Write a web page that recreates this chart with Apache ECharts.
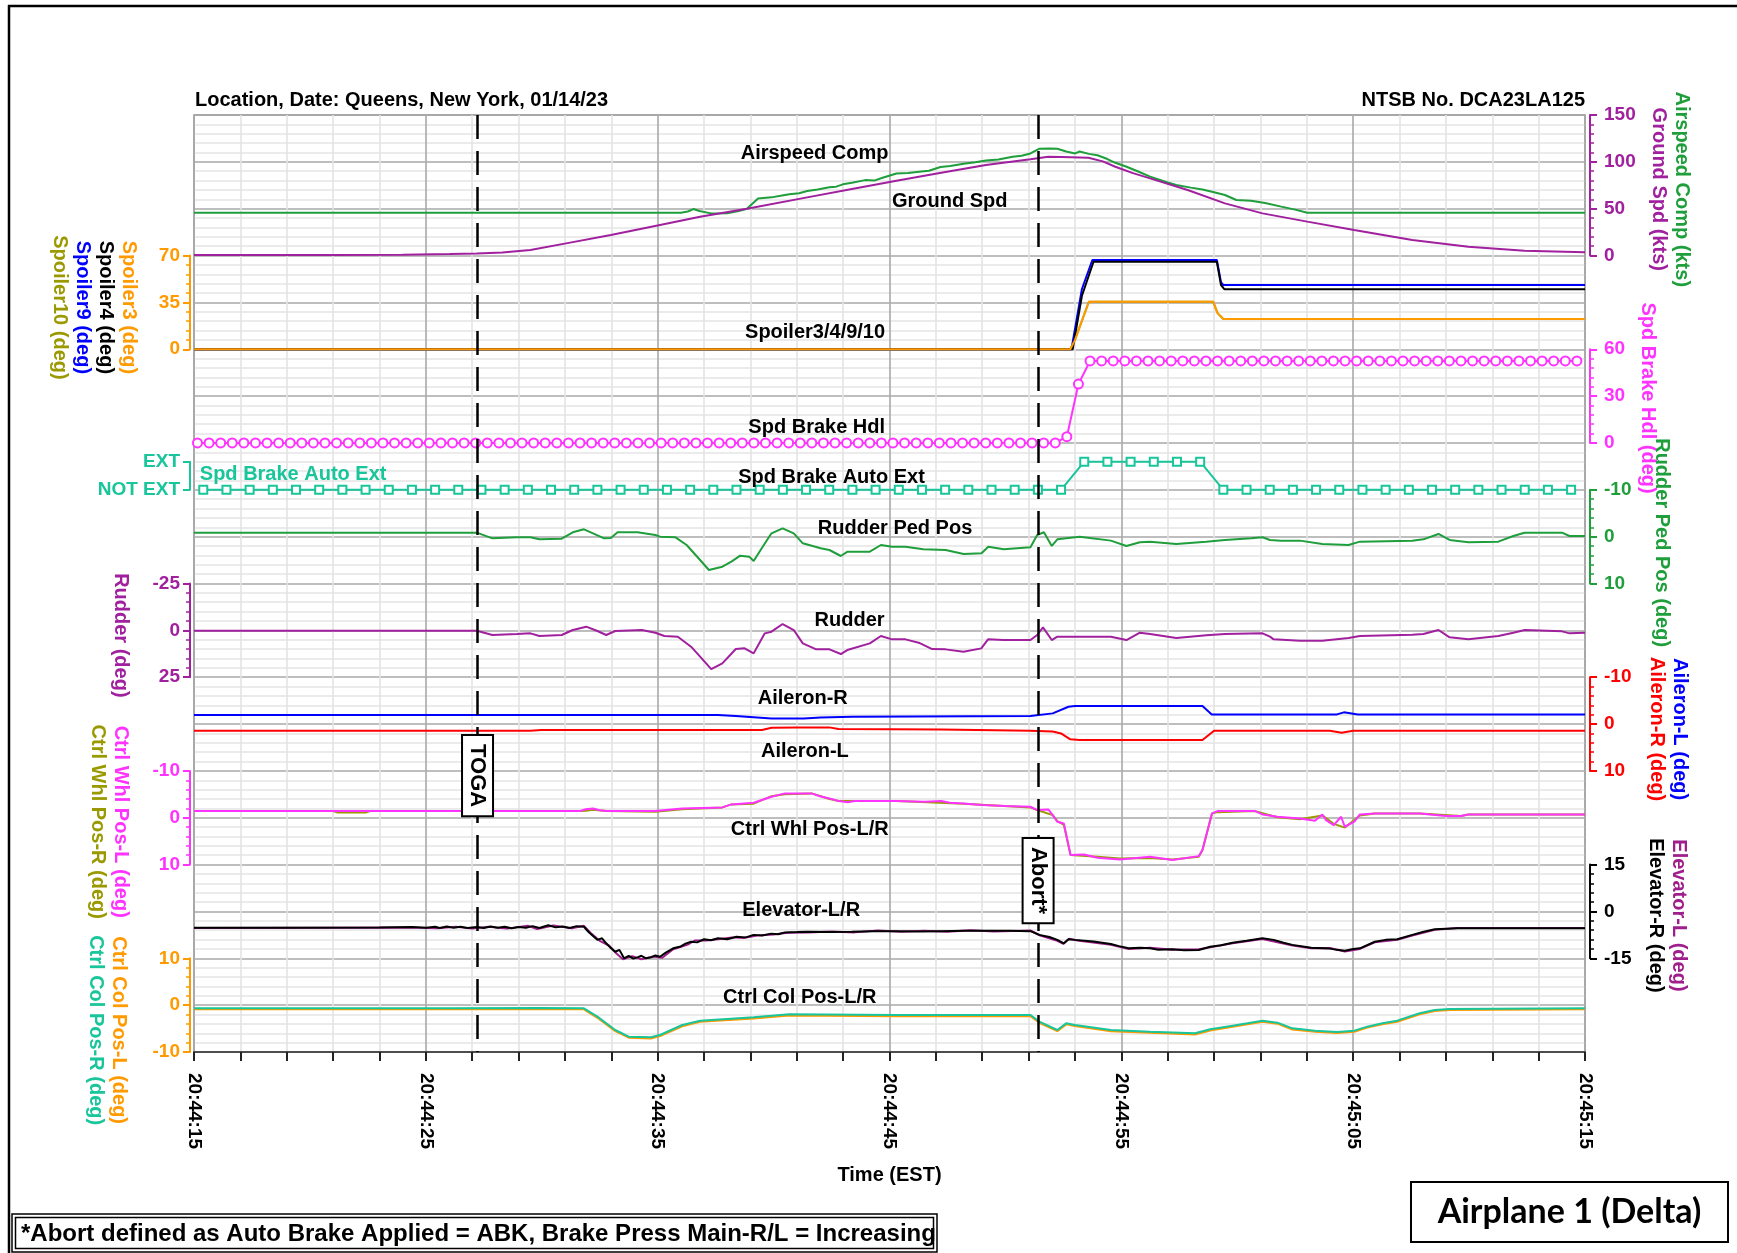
<!DOCTYPE html>
<html><head><meta charset="utf-8">
<script src="https://cdn.jsdelivr.net/npm/echarts/dist/echarts.min.js"></script>
<style>html,body{margin:0;padding:0;background:#fff}#c{width:1737px;height:1253px}</style>
</head><body><div id="c"></div>
<script>
// ---------------- DATA ----------------
const timeLabels = ['20:44:15','20:44:25','20:44:35','20:44:45','20:44:55','20:45:05','20:45:15'];
const eventTimes = [12.23, 36.41];
const eventLabels = ['TOGA', 'Abort*'];

const airspeedComp = [[0,45.7],[21.0,45.7],[21.3,47.0],[21.54,49.6],[21.8,47.5],[22.3,45.0],[23.0,45.2],[23.5,47.5],[23.85,50.0],[24.33,61.0],[24.91,62.1],[25.3,63.8],[25.68,65.5],[26.1,66.4],[26.45,68.9],[26.9,70.5],[27.41,72.8],[27.7,73.5],[27.99,76.0],[28.38,77.8],[28.95,80.5],[29.34,80.0],[29.7,83.0],[30.3,87.5],[30.8,88.0],[31.27,89.5],[31.7,90.5],[32.2,94.5],[32.62,95.5],[33.2,98.0],[33.7,99.5],[34.16,101.5],[34.7,102.5],[35.31,105.5],[35.7,106.5],[36.08,109.0],[36.47,114.0],[36.9,114.2],[37.24,114.0],[37.62,111.0],[38.01,109.0],[38.2,111.0],[38.6,108.5],[38.97,107.0],[39.4,103.0],[39.74,99.0],[40.2,95.0],[40.7,90.0],[41.24,84.2],[42.0,78.0],[42.37,75.3],[43.0,72.5],[43.5,70.5],[44.0,67.5],[44.47,64.6],[44.96,59.3],[45.6,58.6],[46.2,56.0],[46.9,52.2],[47.5,49.0],[48.02,45.7],[60,45.7]];
const groundSpd = [[0,0.5],[6,0.6],[9,0.9],[11.04,1.6],[12.2,2.3],[13.3,3.2],[14.51,5.9],[16.05,13.0],[17.98,21.9],[20.1,32.6],[21.83,41.5],[23.85,50.0],[26.45,62.1],[28.38,71.0],[30.3,79.9],[32.23,88.4],[34.16,96.6],[36.08,102.7],[36.85,105.5],[37.43,105.2],[38.58,104.4],[39.2,100.5],[39.74,94.8],[40.5,88.0],[41.24,82.4],[42.86,70.0],[44.47,55.7],[46.09,45.0],[48.02,36.2],[50.04,27.3],[52.55,16.6],[54.97,9.5],[57.39,5.2],[60,3.5]];

const spoiler3 = [[0,0],[37.8,0],[38.0,7],[38.6,35.5],[43.96,35.5],[44.15,27],[44.4,22.6],[60,22.6]];
const spoiler4 = [[0,0],[37.9,0],[38.3,40],[38.8,65.4],[44.12,65.4],[44.3,48],[44.45,44.8],[60,44.8]];
const spoiler9 = [[0,0],[37.85,0],[38.3,45],[38.75,66.7],[44.12,66.7],[44.3,50],[44.4,48],[60,48]];
const spoiler10 = [[0,0],[37.8,0],[38.0,7],[38.6,35.5],[43.96,35.5],[44.15,27],[44.4,22.6],[60,22.6]];

// Spd Brake Hdl sampled at 2 Hz
const hdlStart = 0.15, hdlStep = 0.5;
const spdBrakeHdl = [
 0,0,0,0,0,0,0,0,0,0,0,0,0,0,0,
 0,0,0,0,0,0,0,0,0,0,0,0,0,0,0,
 0,0,0,0,0,0,0,0,0,0,0,0,0,0,0,
 0,0,0,0,0,0,0,0,0,0,0,0,0,0,0,
 0,0,0,0,0,0,0,0,0,0,0,0,0,0,0,
 4, 37.7,
 52.5,52.5,52.5,52.5,52.5,52.5,52.5,52.5,52.5,52.5,52.5,52.5,52.5,52.5,52.5,
 52.5,52.5,52.5,52.5,52.5,52.5,52.5,52.5,52.5,52.5,52.5,52.5,52.5,52.5,52.5,
 52.5,52.5,52.5,52.5,52.5,52.5,52.5,52.5,52.5,52.5,52.5,52.5,52.5
];
// Spd Brake Auto Ext sampled at 1 Hz (0 = NOT EXT, 1 = EXT)
const extStart = 0.4, extStep = 1;
const spdBrakeAutoExt = [
 0,0,0,0,0,0,0,0,0,0,0,0,0,0,0,0,0,0,0,0,
 0,0,0,0,0,0,0,0,0,0,0,0,0,0,0,0,0,0,1,1,
 1,1,1,1,0,0,0,0,0,0,0,0,0,0,0,0,0,0,0,0
];

const rudderPedPos = [[0,-0.85],[11.04,-0.85],[12.2,-0.85],[12.87,0.36],[13.93,0.14],[14.51,0.14],[14.9,0.57],[15.86,0.43],[16.34,-0.93],[16.82,-1.57],[17.21,-0.71],[17.69,0.36],[17.98,0.28],[18.27,-0.93],[19.13,-0.93],[19.9,-0.36],[20.1,0],[20.77,0.14],[21.25,1.78],[21.83,4.98],[22.21,7.12],[22.79,6.41],[23.18,5.34],[23.56,4.06],[23.95,4.27],[24.14,5.2],[24.53,2.14],[24.91,-0.71],[25.39,-1.78],[25.87,-0.71],[26.26,1.42],[27.03,2.49],[27.41,2.85],[27.9,4.13],[28.19,3.2],[29.15,3.2],[29.63,1.78],[30.11,2.14],[30.69,2.14],[31.46,2.7],[32.42,2.85],[33.2,3.7],[33.97,3.56],[34.26,2.14],[34.93,2.7],[36.08,2.28],[36.37,-0.36],[36.66,-0.93],[37.0,1.99],[37.24,0.57],[38.2,0],[39.55,0.85],[40.22,1.99],[40.8,1.21],[41.24,1.07],[42.37,1.57],[43.66,1.07],[44.47,0.71],[45.6,0.36],[46.09,0.14],[46.41,0.71],[46.89,0.85],[47.7,0.85],[48.67,1.57],[49.8,1.78],[50.29,1.07],[52.55,0.85],[53.03,0.57],[53.68,-0.57],[54.16,0.71],[54.97,1.21],[56.26,1.07],[56.91,-0.14],[57.39,-0.85],[59.01,-0.85],[59.33,-0.14],[60,-0.14]];
const rudder = [[0,0.18],[11.04,0.18],[12.2,0.18],[12.87,2.49],[13.93,1.96],[14.51,1.6],[14.9,3.03],[15.86,2.49],[16.34,-0.18],[16.92,-1.96],[17.4,0.36],[17.78,2.49],[18.17,0.36],[19.32,-0.18],[19.9,1.25],[20.29,3.03],[20.87,3.38],[21.44,8.72],[21.83,14.06],[22.31,20.65],[22.79,17.62],[23.37,9.97],[23.75,9.61],[24.14,12.28],[24.62,1.6],[24.91,0.71],[25.39,-3.38],[25.87,-0.18],[26.26,6.94],[26.84,10.15],[27.41,10.15],[27.9,12.64],[28.18,10.5],[29.15,6.94],[29.63,3.03],[30.11,4.81],[30.69,4.81],[31.26,6.59],[31.84,9.97],[32.42,10.15],[33.19,11.39],[33.96,9.61],[34.25,4.81],[34.92,5.16],[36.08,5.16],[36.37,2.49],[36.62,-1.6],[37.0,5.16],[37.24,3.38],[38.2,3.38],[39.55,3.38],[40.22,5.16],[40.8,1.25],[41.24,1.96],[42.37,4.09],[43.67,2.67],[44.47,1.96],[46.09,1.6],[46.41,3.38],[46.57,4.81],[47.7,5.52],[48.67,5.52],[49.8,4.09],[50.29,3.03],[52.55,2.31],[53.03,1.96],[53.68,-0.18],[54.16,3.74],[54.97,4.81],[56.26,3.03],[56.91,1.25],[57.4,-0.18],[59.01,0.53],[59.33,1.6],[60,1.25]];

const aileronL = [[0,-1.93],[22.6,-1.93],[23.37,-1.7],[24.91,-1.2],[26.3,-1.2],[27.03,-1.4],[28.38,-1.57],[36.08,-1.7],[37.04,-2.28],[37.72,-3.7],[38.0,-3.84],[43.5,-3.84],[43.9,-2.06],[49.3,-2.06],[49.6,-2.5],[50.2,-2.06],[60,-2.06]];
const aileronR = [[0,1.42],[14.5,1.42],[15.0,1.28],[24.5,1.28],[24.91,0.78],[26.0,0.71],[27.4,0.71],[27.8,1.07],[32.2,1.14],[36.08,1.42],[37.04,1.57],[37.4,2.0],[37.8,3.27],[38.2,3.42],[43.5,3.42],[44.0,1.42],[49.0,1.42],[49.5,1.85],[50.0,1.42],[60,1.42]];

const ctrlWhlL = [[0,-1.42],[16.63,-1.42],[16.9,-1.8],[17.21,-1.99],[17.5,-1.6],[17.78,-1.42],[19.9,-1.42],[21.06,-1.99],[22.79,-2.21],[23.18,-2.85],[24.14,-3.2],[24.91,-4.48],[25.49,-5.2],[26.64,-5.2],[27.0,-4.6],[27.41,-4.13],[27.8,-3.56],[28.2,-3.3],[28.5,-3.56],[30.3,-3.56],[31.5,-3.4],[32.23,-3.56],[32.6,-3.2],[33.19,-3.06],[34.0,-2.7],[35.0,-2.5],[36.08,-2.35],[36.37,-1.64],[36.85,-1.78],[37.04,-0.57],[37.24,0.85],[37.52,1.21],[37.81,7.97],[38.39,7.83],[38.97,8.54],[39.93,8.9],[41.24,8.33],[42.21,9.04],[43.34,8.19],[43.5,6.9],[43.91,-0.93],[44.15,-1.42],[45.77,-1.42],[46.09,-0.71],[46.73,-0.21],[47.7,0.14],[48.35,0.64],[48.67,-0.71],[48.83,0.5],[49.16,1.57],[49.48,-0.21],[49.64,1.92],[50.05,0.85],[50.29,-0.71],[50.93,-0.93],[52.87,-0.93],[54.0,-0.36],[54.65,-0.36],[54.97,-0.71],[60,-0.71]];
const ctrlWhlR = [[0,-1.42],[6.0,-1.42],[6.2,-1.1],[7.4,-1.1],[7.6,-1.42],[16.63,-1.42],[16.9,-1.5],[17.21,-1.7],[17.78,-1.42],[19.9,-1.3],[21.06,-1.8],[22.79,-2.21],[23.18,-2.85],[24.14,-3.0],[24.91,-4.6],[25.49,-5.0],[26.64,-5.2],[27.41,-4.0],[27.8,-3.56],[30.3,-3.56],[33.19,-3.0],[36.08,-2.2],[36.37,-1.64],[37.04,-0.57],[37.24,0.7],[37.52,1.5],[37.81,7.97],[38.97,8.3],[39.93,8.7],[41.24,8.6],[42.21,8.9],[43.34,8.3],[43.5,6.9],[43.91,-0.93],[44.15,-1.2],[45.77,-1.42],[46.73,-0.1],[47.7,0.3],[48.67,-0.5],[49.16,1.3],[49.64,2.1],[50.29,-0.5],[50.93,-0.93],[52.87,-0.93],[54.65,-0.36],[54.97,-0.71],[60,-0.71]];

const elevatorR = [[0,-5.2],[4,-5.2],[8,-5.1],[9.4,-5.0],[10.0,-5.2],[10.4,-4.9],[10.6,-5.3],[10.9,-4.8],[11.2,-5.2],[11.5,-4.9],[11.8,-5.3],[12.2,-5.0],[12.5,-5.3],[12.8,-4.8],[13.1,-5.2],[13.4,-4.9],[13.7,-5.4],[14.0,-5.0],[14.32,-5.2],[14.6,-4.7],[14.9,-5.3],[15.28,-4.4],[15.6,-5.1],[15.9,-4.8],[16.2,-5.3],[16.5,-4.7],[16.82,-4.9],[17.01,-6.5],[17.2,-7.8],[17.4,-9.1],[17.6,-8.6],[17.78,-10.2],[17.95,-11.5],[18.17,-12.9],[18.35,-12.3],[18.55,-15.0],[18.75,-14.2],[18.95,-15.1],[19.13,-14.7],[19.3,-14.2],[19.5,-15.0],[19.71,-14.7],[19.9,-14.1],[20.1,-14.5],[20.35,-13.2],[20.67,-11.8],[21.0,-11.2],[21.2,-10.3],[21.44,-9.7],[21.7,-9.9],[22.0,-8.9],[22.3,-9.2],[22.6,-8.6],[23.0,-8.9],[23.4,-8.1],[23.8,-8.3],[24.14,-7.5],[24.5,-7.7],[24.9,-7.1],[25.2,-7.3],[25.49,-6.7],[26.0,-6.6],[26.45,-6.5],[27.5,-6.6],[28.38,-6.5],[29.3,-6.3],[30.3,-6.3],[31.3,-6.4],[32.23,-6.3],[33.2,-6.2],[34.15,-6.2],[35.2,-6.2],[36.08,-6.3],[36.46,-7.5],[36.9,-8.2],[37.24,-9.1],[37.52,-10.2],[37.72,-8.9],[38.0,-9.1],[38.8,-9.6],[39.55,-10.4],[39.9,-11.1],[40.32,-11.8],[40.8,-11.6],[41.24,-11.8],[41.6,-12.3],[42.21,-12.1],[42.7,-12.4],[43.34,-12.35],[43.83,-11.3],[44.3,-10.8],[44.8,-10.0],[45.4,-9.4],[46.09,-8.6],[46.57,-9.1],[47.0,-10.0],[47.38,-10.7],[48.19,-11.6],[49.0,-11.9],[49.3,-12.3],[49.64,-12.6],[50.0,-12.0],[50.29,-11.8],[50.93,-9.7],[51.4,-9.1],[51.9,-8.9],[52.55,-7.5],[53.0,-6.6],[53.52,-5.7],[54.49,-5.4],[60,-5.4]];
const elevatorL = [[0,-5.3],[9.4,-5.1],[10.5,-5.4],[11.3,-4.9],[12.0,-5.5],[12.7,-4.9],[13.5,-5.5],[14.4,-4.6],[14.8,-5.6],[15.5,-4.5],[16.3,-5.4],[16.82,-4.6],[17.1,-6.8],[17.5,-9.4],[17.9,-10.9],[18.2,-13.3],[18.5,-15.3],[18.9,-14.3],[19.3,-15.3],[19.8,-14.4],[20.2,-14.8],[20.67,-12.1],[21.3,-10.6],[21.6,-9.3],[22.1,-9.3],[22.6,-8.9],[23.2,-8.3],[23.7,-8.5],[24.3,-7.7],[25.0,-7.4],[25.6,-6.8],[26.5,-6.7],[27.5,-6.4],[28.5,-6.7],[29.5,-6.1],[30.5,-6.5],[31.5,-6.2],[32.5,-6.5],[33.5,-6.0],[34.5,-6.4],[36.08,-6.1],[36.5,-7.7],[37.24,-9.4],[37.5,-10.4],[37.75,-8.7],[38.1,-9.3],[39.55,-10.7],[40.32,-12.0],[41.24,-11.6],[42.21,-12.3],[43.34,-12.1],[43.83,-11.5],[44.8,-10.2],[46.09,-8.8],[47.38,-10.9],[48.19,-11.8],[49.0,-11.7],[49.64,-12.8],[50.29,-12.0],[50.93,-9.9],[51.9,-9.1],[52.55,-7.7],[53.52,-5.9],[54.49,-5.3],[60,-5.3]];

const ctrlColR = [[0,-0.68],[11.04,-0.68],[14.9,-0.6],[16.82,-0.68],[17.4,-2.46],[18.17,-5.3],[18.75,-6.73],[19.71,-6.87],[20.1,-6.37],[21.06,-4.23],[21.83,-3.31],[24.14,-2.6],[25.68,-1.96],[30.3,-2.1],[36.08,-2.1],[36.46,-3.52],[37.24,-5.3],[37.62,-3.88],[38.0,-4.23],[39.55,-5.3],[41.24,-5.66],[43.18,-6.0],[43.83,-5.16],[44.8,-4.38],[45.44,-3.88],[46.09,-3.31],[46.73,-3.74],[47.38,-4.95],[48.35,-5.44],[49.32,-5.73],[50.05,-5.44],[50.61,-4.59],[51.26,-3.88],[51.9,-3.31],[52.87,-1.74],[53.52,-1.03],[54.16,-0.82],[60,-0.68]];
const ctrlColL = [[0,-0.9],[11.04,-0.9],[14.9,-0.85],[16.82,-0.9],[17.4,-2.7],[18.17,-5.55],[18.75,-6.95],[19.71,-7.1],[20.1,-6.6],[21.06,-4.5],[21.83,-3.55],[24.14,-2.85],[25.68,-2.2],[30.3,-2.35],[36.08,-2.35],[36.46,-3.75],[37.24,-5.55],[37.62,-4.1],[38.0,-4.45],[39.55,-5.55],[41.24,-5.9],[43.18,-6.25],[43.83,-5.4],[44.8,-4.6],[45.44,-4.1],[46.09,-3.55],[46.73,-3.95],[47.38,-5.2],[48.35,-5.7],[49.32,-5.95],[50.05,-5.7],[50.61,-4.8],[51.26,-4.1],[51.9,-3.55],[52.87,-1.95],[53.52,-1.25],[54.16,-1.05],[60,-0.9]];

// ---------------- STYLE / LAYOUT ----------------
const FONT = '"Liberation Sans", Arial, sans-serif';
const C = {green:'#1f9e3c', purple:'#a0209e', orange:'#ff9a00', black:'#000000', blue:'#0000ff', olive:'#9a9a00',
  magenta:'#ff33ff', teal:'#19c59a', red:'#ff0000', elevL:'#a01e8c'};
const L = {left:194, right:152, top:115, div:46.85};
function gridBox(k0, k1, show) {
  return {left:L.left, right:L.right, top:L.top + k0*L.div, height:(k1-k0)*L.div, show:!!show,
    borderColor:'#8c8c8c', borderWidth:1.5, backgroundColor:'#fff', outerBoundsMode:'none'};
}
function rich(lines) {
  const r = {}; let txt = [];
  lines.forEach((l, i) => { const key = 'l' + i; r[key] = {color:l[1], fontSize:20, fontWeight:'bold', fontFamily:FONT, lineHeight:23}; txt.push('{' + key + '|' + l[0] + '}'); });
  return {name: txt.join('\n'), rich: r};
}
const bands = [
  {k:[0,3], side:'right', min:0, max:150, interval:50, color:C.purple, name:[['Airspeed Comp (kts)',C.green],['Ground Spd (kts)',C.purple]], gap:57, shift:4},
  {k:[3,5], side:'left', min:0, max:70, interval:35, color:C.orange, name:[['Spoiler3 (deg)',C.orange],['Spoiler4 (deg)',C.black],['Spoiler9 (deg)',C.blue],['Spoiler10 (deg)',C.olive]], gap:50, shift:5},
  {k:[5,7], side:'right', min:0, max:60, interval:30, color:C.magenta, name:[['Spd Brake Hdl (deg)',C.magenta]], gap:42, shift:2},
  {k:[7.4,8], side:'left', min:0, max:1, interval:1, color:C.teal, name:null, noMinor:true, labels:['NOT EXT','EXT']},
  {k:[8,10], side:'right', min:-10, max:10, interval:10, inverse:true, color:C.green, name:[['Rudder Ped Pos (deg)',C.green]], gap:60, shift:6},
  {k:[10,12], side:'left', min:-25, max:25, interval:25, inverse:true, color:C.purple, name:[['Rudder (deg)',C.purple]], gap:58, shift:5},
  {k:[12,14], side:'right', min:-10, max:10, interval:10, inverse:true, color:C.red, name:[['Aileron-L (deg)',C.blue],['Aileron-R (deg)',C.red]], gap:55, shift:5},
  {k:[14,16], side:'left', min:-10, max:10, interval:10, inverse:true, color:C.magenta, name:[['Ctrl Whl Pos-L (deg)',C.magenta],['Ctrl Whl Pos-R (deg)',C.olive]], gap:58, shift:4},
  {k:[16,18], side:'right', min:-15, max:15, interval:15, color:C.black, name:[['Elevator-L (deg)',C.elevL],['Elevator-R (deg)',C.black]], gap:54, shift:4},
  {k:[18,20], side:'left', min:-10, max:10, interval:10, color:C.orange, name:[['Ctrl Col Pos-L (deg)',C.orange],['Ctrl Col Pos-R (deg)',C.teal]], gap:60, shift:25}
];

const grids = [gridBox(0, 20, true)].concat(bands.map(b => gridBox(b.k[0], b.k[1], false)));
const MAJ = '#a9a9a9', MIN = '#e4e4e4';
const xAxes = [{
  gridIndex:0, type:'value', min:0, max:60, interval:2, position:'bottom',
  axisLine:{show:true, onZero:false, lineStyle:{color:'#4d4d4d', width:2}},
  axisTick:{show:true, length:9, lineStyle:{color:'#222', width:2}},
  axisLabel:{interval:0, rotate:-90, margin:21, fontSize:19, fontWeight:'bold', fontFamily:FONT, color:'#000',
    formatter: v => (v % 10 === 0 ? timeLabels[v/10] : '')},
  splitLine:{show:true, lineStyle:{color:[MAJ, MIN, MIN, MIN, MIN], width:1.6}},
  name:'Time (EST)', nameLocation:'middle', nameGap:112,
  nameTextStyle:{fontSize:20, fontWeight:'bold', fontFamily:FONT, color:'#000', lineHeight:22}
}].concat(bands.map((b, i) => ({gridIndex:i+1, type:'value', min:0, max:60, show:false})));

const yAxes = [{
  gridIndex:0, type:'value', min:0, max:100, interval:1, inverse:true, show:true,
  axisLine:{show:false}, axisTick:{show:false}, axisLabel:{show:false},
  splitLine:{show:true, lineStyle:{color:[MAJ, MIN, MIN, MIN, MIN], width:1.6}}
}].concat(bands.map((b, i) => {
  const ax = {
    gridIndex:i+1, type:'value', position:b.side, min:b.min, max:b.max, interval:b.interval, inverse:!!b.inverse,
    offset: b.side === 'left' ? 4 : 5,
    axisLine:{show:true, onZero:false, lineStyle:{color:b.color, width:2}},
    axisTick:{show:true, inside:false, length:7, lineStyle:{color:b.color, width:2}},
    minorTick:{show:!b.noMinor, splitNumber:5, length:4, lineStyle:{color:b.color, width:1.5}},
    splitLine:{show:false},
    axisLabel:{color:b.color, fontSize:19, fontWeight:'bold', fontFamily:FONT, margin: b.side === 'left' ? 10 : 14,
      showMinLabel:true, showMaxLabel:true},
  };
  if (b.labels) ax.axisLabel.formatter = v => b.labels[v];
  if (b.name) {
    const r = rich(b.name);
    ax.name = r.name; ax.nameLocation = 'middle'; ax.nameRotate = -90; ax.nameGap = b.gap;
    ax.nameTextStyle = {rich:r.rich, fontSize:20, fontWeight:'bold', fontFamily:FONT, lineHeight:23, padding:[0,0,0,2*b.shift]};
  }
  return ax;
}));

function line(name, g, data, color, extra) {
  return Object.assign({type:'line', name, xAxisIndex:g, yAxisIndex:g, data, symbol:'none', showSymbol:false,
    clip:false, animation:false, lineStyle:{color, width:2}, itemStyle:{color}, z:3}, extra || {});
}
const hdlData = spdBrakeHdl.map((v, i) => [hdlStart + i*hdlStep, v]);
const extData = spdBrakeAutoExt.map((v, i) => [extStart + i*extStep, v]);

const labelSpots = [
  ['Airspeed Comp', 26.77, 4.16], ['Ground Spd', 32.6, 9.25], ['Spoiler3/4/9/10', 26.79, 23.2],
  ['Spd Brake Hdl', 26.86, 33.35], ['Spd Brake Auto Ext', 27.5, 38.7], ['Rudder Ped Pos', 30.24, 44.1],
  ['Rudder', 28.28, 53.9], ['Aileron-R', 26.26, 62.3], ['Aileron-L', 26.35, 67.9],
  ['Ctrl Whl Pos-L/R', 26.56, 76.3], ['Elevator-L/R', 26.19, 84.9], ['Ctrl Col Pos-L/R', 26.13, 94.2]
];
const eventLabelY = [70.5, 81.7];

const markLabels = labelSpots.map(s => ({coord:[s[1], s[2]], label:{show:true, formatter:s[0], color:'#000', fontSize:20, fontWeight:'bold', fontFamily:FONT}}));
markLabels.push({coord:[0.25, 38.4], label:{show:true, formatter:'Spd Brake Auto Ext', color:C.teal, fontSize:20, fontWeight:'bold', fontFamily:FONT, align:'left'}});
eventTimes.forEach((t, i) => markLabels.push({coord:[t, eventLabelY[i]], label:{show:true, formatter:eventLabels[i], rotate:-90,
  color:'#000', fontSize:22, fontWeight:'bold', fontFamily:FONT, backgroundColor:'#fff', borderColor:'#000', borderWidth:2,
  padding:[3,8,2,8], lineHeight:24}}));

const series = [
  line('Airspeed Comp', 1, airspeedComp, C.green),
  line('Ground Spd', 1, groundSpd, C.purple),
  line('Spoiler10', 2, spoiler10, C.olive),
  line('Spoiler9', 2, spoiler9, C.blue),
  line('Spoiler4', 2, spoiler4, C.black),
  line('Spoiler3', 2, spoiler3, C.orange),
  line('Spd Brake Hdl', 3, hdlData, C.magenta, {symbol:'emptyCircle', showSymbol:true, showAllSymbol:true, symbolSize:9,
    itemStyle:{color:C.magenta, borderColor:C.magenta, borderWidth:1.6}}),
  line('Spd Brake Auto Ext', 4, extData, C.teal, {symbol:'emptyRect', showSymbol:true, showAllSymbol:true, symbolSize:8,
    itemStyle:{color:C.teal, borderColor:C.teal, borderWidth:1.6}}),
  line('Rudder Ped Pos', 5, rudderPedPos, C.green),
  line('Rudder', 6, rudder, C.purple),
  line('Aileron-L', 7, aileronL, C.blue),
  line('Aileron-R', 7, aileronR, C.red),
  line('Ctrl Whl Pos-R', 8, ctrlWhlR, C.olive),
  line('Ctrl Whl Pos-L', 8, ctrlWhlL, C.magenta),
  line('Elevator-L', 9, elevatorL, C.elevL),
  line('Elevator-R', 9, elevatorR, C.black),
  line('Ctrl Col Pos-L', 10, ctrlColL, C.orange),
  line('Ctrl Col Pos-R', 10, ctrlColR, C.teal),
  {type:'scatter', name:'annotations', xAxisIndex:0, yAxisIndex:0, data:[], silent:true, z:10, animation:false,
    markLine:{silent:true, symbol:['none','none'], animation:false, label:{show:false},
      lineStyle:{color:'#000', width:2.5, type:[24,12]}, data:eventTimes.map(t => ({xAxis:t}))},
    markPoint:{silent:true, animation:false, symbol:'rect', symbolSize:1, itemStyle:{color:'rgba(0,0,0,0)'}, data:markLabels}}
];

const chart = echarts.init(document.getElementById('c'), null, {renderer:'canvas', width:1737, height:1253});
chart.setOption({
  backgroundColor:'#fff',
  animation:false,
  title:[
    {text:'Location, Date: Queens, New York, 01/14/23', left:195, top:90, padding:0,
      textStyle:{fontSize:20, fontWeight:'bold', fontFamily:FONT, color:'#000'}},
    {text:'NTSB No. DCA23LA125', right:152, top:90, padding:0,
      textStyle:{fontSize:20, fontWeight:'bold', fontFamily:FONT, color:'#000'}}
  ],
  grid:grids, xAxis:xAxes, yAxis:yAxes, series,
  graphic:[
    {type:'line', shape:{x1:8, y1:6, x2:1737, y2:6}, style:{stroke:'#000', lineWidth:2.5}, silent:true},
    {type:'line', shape:{x1:9, y1:5, x2:9, y2:1253}, style:{stroke:'#000', lineWidth:2.5}, silent:true},
    {type:'rect', shape:{x:12, y:1214, width:925, height:38}, style:{fill:'#fff', stroke:'#000', lineWidth:1.5}, silent:true},
    {type:'rect', shape:{x:15.5, y:1217.5, width:918, height:31}, style:{fill:'none', stroke:'#000', lineWidth:1.5}, silent:true},
    {type:'text', x:21, y:1234, silent:true, style:{text:'*Abort defined as Auto Brake Applied = ABK, Brake Press Main-R/L = Increasing',
      fontSize:24, fontWeight:'bold', fontFamily:FONT, fill:'#000', verticalAlign:'middle', align:'left'}},
    {type:'rect', shape:{x:1411, y:1182, width:317, height:60}, style:{fill:'#fff', stroke:'#000', lineWidth:2}, silent:true},
    {type:'text', x:1569.5, y:1212, silent:true, style:{text:'Airplane 1 (Delta)', fontSize:34, fontWeight:'bold',
      fontFamily:'Lato, "Open Sans", sans-serif', fill:'#000', align:'center', verticalAlign:'middle'}}
  ]
});
</script></body></html>
